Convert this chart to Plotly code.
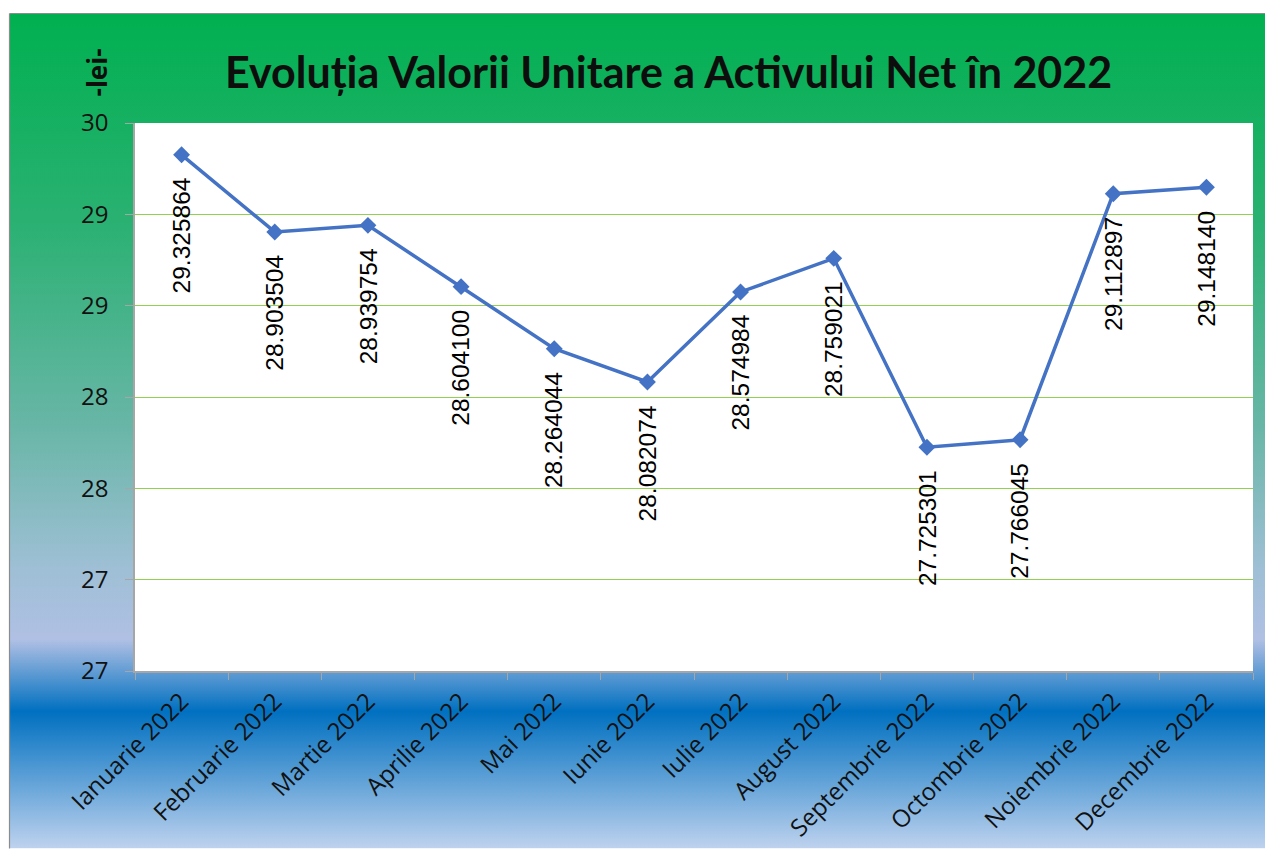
import base64
import plotly.graph_objects as go

# ---------------- data ----------------
months = ["Ianuarie 2022", "Februarie 2022", "Martie 2022", "Aprilie 2022", "Mai 2022",
          "Iunie 2022", "Iulie 2022", "August 2022", "Septembrie 2022", "Octombrie 2022",
          "Noiembrie 2022", "Decembrie 2022"]
vuan = [29.325864, 28.903504, 28.939754, 28.604100, 28.264044, 28.082074,
        28.574984, 28.759021, 27.725301, 27.766045, 29.112897, 29.148140]
y_tickvals = [26.5, 27.0, 27.5, 28.0, 28.5, 29.0, 29.5]
y_ticktext = ["27", "27", "28", "28", "29", "29", "30"]
title_text = "Evoluția Valorii Unitare a Activului Net în 2022"
unit_text = "-lei-"

# ---------------- layout geometry (px, page body has an 8px margin) ----------------
OFF = 8
W, H = 1273 - OFF, 855 - OFF
L, T = 135 - OFF, 123 - OFF
R = W - (1253 - OFF)
B = H - (676 - OFF)
PW, PH = W - L - R, H - T - B


def px_x(p):  # p in page px
    return (p - OFF - L) / PW


def px_y(p):
    return (H - B - (p - OFF)) / PH


# background gradient as SVG
svg = """<svg xmlns='http://www.w3.org/2000/svg' width='100' height='100' viewBox='0 0 100 100' preserveAspectRatio='none'>
<defs><linearGradient id='g' x1='0' y1='0' x2='0' y2='1'>
<stop offset='0' stop-color='#00B050'/>
<stop offset='0.25' stop-color='#2AB172'/>
<stop offset='0.5' stop-color='#6AB6A8'/>
<stop offset='0.66' stop-color='#9DBFD4'/>
<stop offset='0.75' stop-color='#B0C0E4'/>
<stop offset='0.836' stop-color='#0070C0'/>
<stop offset='1' stop-color='#BED2EE'/>
</linearGradient></defs>
<rect x='0' y='0' width='100' height='100' fill='url(#g)'/>
</svg>"""
svg_uri = "data:image/svg+xml;base64," + base64.b64encode(svg.encode()).decode()

fig = go.Figure()
fig.add_trace(go.Scatter(
    x=months, y=vuan, mode="lines+markers",
    line=dict(color="#4472C4", width=3.5),
    marker=dict(symbol="diamond", size=13, color="#4472C4"),
    hoverinfo="x+y", showlegend=False,
))

annotations = []
for m, v in zip(months, vuan):
    annotations.append(dict(
        x=m, y=v, xref="x", yref="y", text=f"{v:.6f}", textangle=-90,
        showarrow=False, xanchor="center", yanchor="top", yshift=-21,
        font=dict(family="Liberation Sans, Arial", size=24.5, color="#000000"),
    ))
annotations.append(dict(
    x=px_x(668), y=px_y(71), xref="paper", yref="paper", text="<b>" + title_text + "</b>",
    showarrow=False, xanchor="center", yanchor="middle",
    font=dict(family="Lato, Open Sans", size=43, color="#0D0D0D"),
))
annotations.append(dict(
    x=px_x(97), y=px_y(72), xref="paper", yref="paper", text="<b>" + unit_text + "</b>",
    textangle=-90, showarrow=False, xanchor="center", yanchor="middle",
    font=dict(family="Open Sans", size=26, color="#0D0D0D"),
))

fig.update_layout(
    width=W, height=H,
    margin=dict(l=L, r=R, t=T, b=B, pad=0),
    paper_bgcolor="white", plot_bgcolor="white",
    annotations=annotations,
    images=[dict(
        source=svg_uri, xref="paper", yref="paper",
        x=px_x(10), y=px_y(12), sizex=(1273 - 10) / PW, sizey=(855 - 12) / PH,
        xanchor="left", yanchor="top", sizing="stretch", layer="below",
    )],
    shapes=[
        dict(type="rect", xref="paper", yref="paper", x0=0, x1=1, y0=0, y1=1,
             fillcolor="white", line=dict(width=0), layer="below"),
        dict(type="line", xref="paper", yref="paper", x0=px_x(9.5), x1=px_x(1273),
             y0=px_y(12.5), y1=px_y(12.5), line=dict(color="#8C8C8C", width=1.2), layer="above"),
        dict(type="line", xref="paper", yref="paper", x0=px_x(9.5), x1=px_x(9.5),
             y0=px_y(12.5), y1=px_y(855), line=dict(color="#8C8C8C", width=1.2), layer="above"),
    ],
    xaxis=dict(
        type="category", range=[-0.5, 11.5], showgrid=False,
        showline=True, linecolor="#A6A6A6", linewidth=1.5,
        ticks="outside", tickson="boundaries", ticklen=7, tickcolor="#A6A6A6",
        tickangle=-45, ticklabelstandoff=5,
        tickfont=dict(family="Open Sans", size=24, color="#111111"),
    ),
    yaxis=dict(
        range=[26.5, 29.5], tickvals=y_tickvals, ticktext=y_ticktext,
        showgrid=True, gridcolor="#92D050", gridwidth=1,
        showline=True, linecolor="#A6A6A6", linewidth=1.5,
        ticks="outside", ticklen=8, tickcolor="#A6A6A6", ticklabelstandoff=12,
        tickfont=dict(family="Open Sans", size=24, color="#111111"),
        zeroline=False,
    ),
)

fig.write_html("out.html")
